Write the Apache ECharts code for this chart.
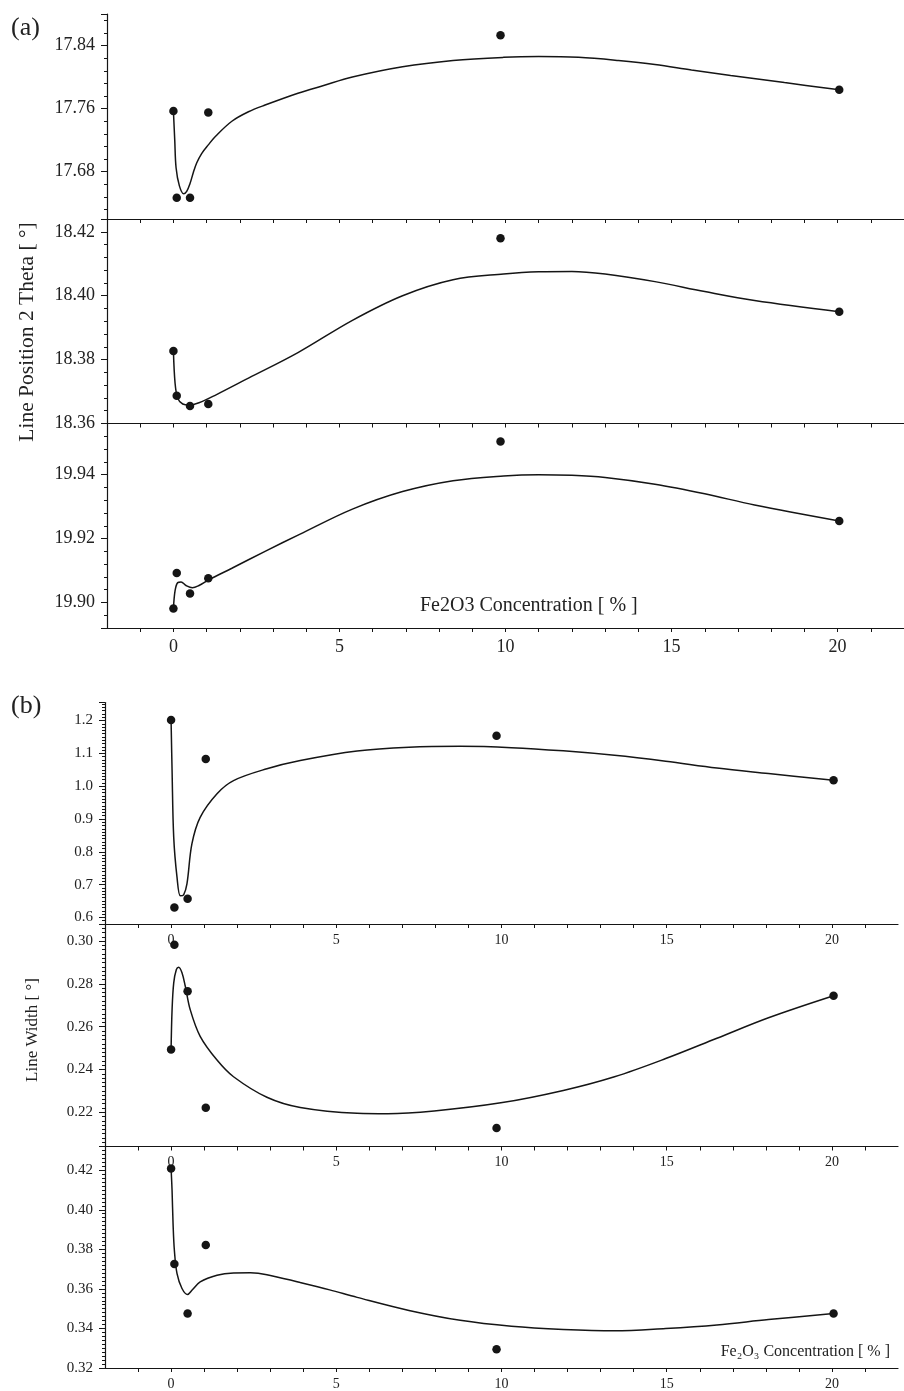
<!DOCTYPE html>
<html>
<head>
<meta charset="utf-8">
<script src="https://cdn.jsdelivr.net/npm/echarts@6/dist/echarts.min.js"></script>
<style>
html,body{margin:0;padding:0;background:#fff;}
#chart{width:904px;height:1391px;}
</style>
</head>
<body>
<div id="chart"></div>
<script>
// ---- Data ----
const xPts = [0, 0.1, 0.5, 1.05, 9.85, 20.05];
const xTickLabels = [0, 5, 10, 15, 20];

// (a) line position 2 Theta
const posA1 = [17.757, 17.647, 17.647, 17.755, 17.853, 17.784];
const posA2 = [18.3827, 18.3687, 18.3655, 18.3661, 18.418, 18.395];
const posA3 = [19.8981, 19.9092, 19.9028, 19.9076, 19.9504, 19.9255];
// (b) line width
const widB1 = [1.2015, 0.6305, 0.657, 1.0826, 1.1534, 1.0177];
const widB2 = [0.2493, 0.2983, 0.2766, 0.2221, 0.2127, 0.2745];
const widB3 = [0.4209, 0.3726, 0.3475, 0.3822, 0.3295, 0.3475];

// fitted curves
const fitA1 = [[0,17.757],[0.04,17.72],[0.08,17.685],[0.18,17.662],[0.31,17.652],[0.4,17.655],[0.5,17.665],[0.6,17.679],[0.7,17.691],[0.85,17.703],[1.05,17.714],[1.27,17.725],[1.76,17.744],[2.26,17.756],[2.76,17.7645],[3.75,17.7795],[4.5,17.789],[5.39,17.8],[6.9,17.813],[8.42,17.821],[9.94,17.825],[11.0,17.826],[12.2,17.825],[13.4,17.821],[14.5,17.816],[15.6,17.809],[16.78,17.802],[18.4,17.793],[20.05,17.784]];
const fitA2 = [[0,18.3828],[0.05,18.3726],[0.13,18.3679],[0.28,18.3661],[0.48,18.3658],[0.77,18.3665],[1.27,18.3689],[2.26,18.3742],[3.75,18.3822],[5.39,18.3923],[6.9,18.4],[8.42,18.405],[9.94,18.4068],[11.0,18.4075],[12.0,18.4076],[13.0,18.4068],[14.5,18.4044],[16.0,18.4013],[17.5,18.3985],[20.05,18.395]];
const fitA3 = [[0,19.898],[0.05,19.9037],[0.13,19.9062],[0.23,19.9064],[0.38,19.9053],[0.57,19.9046],[0.77,19.9053],[1.07,19.9071],[1.76,19.9107],[2.76,19.916],[3.8,19.9213],[5.39,19.9292],[6.9,19.9347],[8.42,19.9381],[9.94,19.9396],[11.0,19.94],[12.0,19.9398],[13.0,19.9391],[14.5,19.937],[16.0,19.934],[17.5,19.9305],[20.05,19.9255]];
const fitB1 = [[0,1.2],[0.03,1.048],[0.08,0.844],[0.18,0.722],[0.28,0.666],[0.38,0.669],[0.48,0.702],[0.63,0.824],[0.88,0.905],[1.39,0.977],[1.89,1.017],[2.9,1.053],[3.91,1.078],[5.63,1.107],[7.2,1.1185],[8.75,1.1213],[10.3,1.1174],[11.87,1.1076],[13.42,1.0939],[14.97,1.0759],[16.52,1.0552],[18.08,1.0384],[20.05,1.0177]];
const fitB2 = [[0,0.2492],[0.03,0.2679],[0.08,0.2805],[0.16,0.2867],[0.23,0.2878],[0.33,0.2852],[0.43,0.2789],[0.58,0.2679],[0.88,0.2555],[1.39,0.2444],[1.89,0.2366],[2.9,0.227],[3.91,0.2222],[5.63,0.2195],[6.56,0.2193],[7.96,0.2206],[9.98,0.2244],[11.87,0.2302],[13.42,0.2366],[14.97,0.2451],[16.52,0.2546],[18.08,0.2642],[20.05,0.2745]];
const fitB3 = [[0,0.421],[0.03,0.4096],[0.06,0.3929],[0.1,0.3794],[0.18,0.3677],[0.33,0.3602],[0.5,0.3572],[0.63,0.3593],[0.88,0.3635],[1.39,0.3669],[1.89,0.368],[2.4,0.3681],[2.9,0.3672],[3.91,0.3632],[4.8,0.3595],[5.63,0.3557],[7.2,0.3491],[8.75,0.3441],[10.3,0.3411],[11.87,0.3395],[13.42,0.3388],[14.97,0.34],[16.52,0.3418],[18.08,0.3445],[20.05,0.3475]];

// y-axis ranges: [min, max, major interval, minor interval, decimals]
const yRangeA1 = [17.62, 17.88, 0.08, 0.016, 2];
const yRangeA2 = [18.36, 18.424, 0.02, 0.004, 2];
const yRangeA3 = [19.892, 19.956, 0.02, 0.004, 2];
const yRangeB1 = [0.58, 1.255, 0.1, 0.01, 1];
const yRangeB2 = [0.204, 0.308, 0.02, 0.002, 2];
const yRangeB3 = [0.32, 0.432, 0.02, 0.002, 2];

// ---- layout ----
const FONT = "'Liberation Serif','DejaVu Serif',serif";
const INK = '#151515';
const panels = [
  {pts: posA1, fit: fitA1, yr: yRangeA1, left: 107, width: 806, top: 14,    height: 205,   xLab: false, fs: 18, xfs: 18},
  {pts: posA2, fit: fitA2, yr: yRangeA2, left: 107, width: 806, top: 219,   height: 204.5, xLab: false, fs: 18, xfs: 18},
  {pts: posA3, fit: fitA3, yr: yRangeA3, left: 107, width: 806, top: 423.5, height: 204.5, xLab: true,  fs: 18, xfs: 18},
  {pts: widB1, fit: fitB1, yr: yRangeB1, left: 105, width: 793, top: 702.5, height: 221.5, xLab: true,  fs: 15, xfs: 14},
  {pts: widB2, fit: fitB2, yr: yRangeB2, left: 105, width: 793, top: 924,   height: 222.5, xLab: true,  fs: 15, xfs: 14},
  {pts: widB3, fit: fitB3, yr: yRangeB3, left: 105, width: 793, top: 1146.5,height: 222,   xLab: true,  fs: 15, xfs: 14}
];

const grid = [], xAxis = [], yAxis = [], series = [];
panels.forEach((p, i) => {
  grid.push({left: p.left, top: p.top, width: p.width, height: p.height, containLabel: false});
  xAxis.push({
    type: 'value', gridIndex: i, min: -2, max: 22, interval: 1,
    axisLine: {show: true, onZero: false, lineStyle: {color: INK, width: 1.2}},
    axisTick: {show: true, inside: false, length: 4, lineStyle: {color: INK, width: 1}},
    splitLine: {show: false},
    axisLabel: {
      show: p.xLab, margin: i < 3 ? 10 : 9, fontFamily: FONT, fontSize: p.xfs, color: '#222',
      showMinLabel: false, showMaxLabel: false,
      formatter: v => (xTickLabels.indexOf(Math.round(v)) >= 0 && Math.abs(v - Math.round(v)) < 1e-6) ? String(Math.round(v)) : ''
    }
  });
  const [mn, mx, maj, mnr, dec] = p.yr;
  // major axis
  yAxis.push({
    type: 'value', gridIndex: i, min: mn, max: mx, minInterval: maj, maxInterval: maj, splitNumber: 3,
    position: 'left', scale: true,
    axisLine: {show: true, onZero: false, lineStyle: {color: INK, width: 1.2}},
    axisTick: {show: true, inside: false, length: 6, lineStyle: {color: INK, width: 1}},
    splitLine: {show: false},
    axisLabel: {
      show: true, margin: 12, fontFamily: FONT, fontSize: p.fs, color: '#222',
      formatter: v => {
        const k = v / maj;
        return Math.abs(k - Math.round(k)) < 1e-4 ? v.toFixed(dec) : '';
      }
    }
  });
  // minor ticks axis
  yAxis.push({
    type: 'value', gridIndex: i, min: mn, max: mx, minInterval: mnr, maxInterval: mnr, splitNumber: 20,
    position: 'left', scale: true,
    axisLine: {show: false, onZero: false},
    axisTick: {show: true, inside: false, length: 3, lineStyle: {color: INK, width: 1}},
    splitLine: {show: false},
    axisLabel: {show: false}
  });
  series.push({
    type: 'line', xAxisIndex: i, yAxisIndex: 2 * i, data: p.fit, smooth: 0.35,
    showSymbol: false, symbol: 'none', lineStyle: {color: INK, width: 1.5}, z: 3, silent: true, animation: false
  });
  series.push({
    type: 'scatter', xAxisIndex: i, yAxisIndex: 2 * i,
    data: xPts.map((x, j) => [x, p.pts[j]]),
    symbol: 'circle', symbolSize: 8.5, itemStyle: {color: INK, opacity: 1}, z: 4, silent: true, animation: false
  });
});

const graphic = [
  {type: 'text', x: 11, y: 28, style: {text: '(a)', fontFamily: FONT, fontSize: 26, fill: '#222', align: 'left', verticalAlign: 'middle'}},
  {type: 'text', x: 11, y: 706, style: {text: '(b)', fontFamily: FONT, fontSize: 26, fill: '#222', align: 'left', verticalAlign: 'middle'}},
  {type: 'text', x: 27, y: 332, rotation: Math.PI / 2, style: {text: 'Line Position 2 Theta [ °]', fontFamily: FONT, fontSize: 21.5, fill: '#222', align: 'center', verticalAlign: 'middle'}},
  {type: 'text', x: 33, y: 1030, rotation: Math.PI / 2, style: {text: 'Line Width [ °]', fontFamily: FONT, fontSize: 17, fill: '#222', align: 'center', verticalAlign: 'middle'}},
  {type: 'text', x: 420, y: 606, style: {text: 'Fe2O3 Concentration [ % ]', fontFamily: FONT, fontSize: 20, fill: '#222', align: 'left', verticalAlign: 'middle'}},
  {type: 'text', x: 890, y: 1352, style: {text: 'Fe\u2082O\u2083 Concentration [ % ]', fontFamily: FONT, fontSize: 16, fill: '#222', align: 'right', verticalAlign: 'middle'}}
];

const chart = echarts.init(document.getElementById('chart'), null, {renderer: 'canvas'});
chart.setOption({
  backgroundColor: '#fff',
  animation: false,
  grid, xAxis, yAxis, series, graphic
});
</script>
</body>
</html>
